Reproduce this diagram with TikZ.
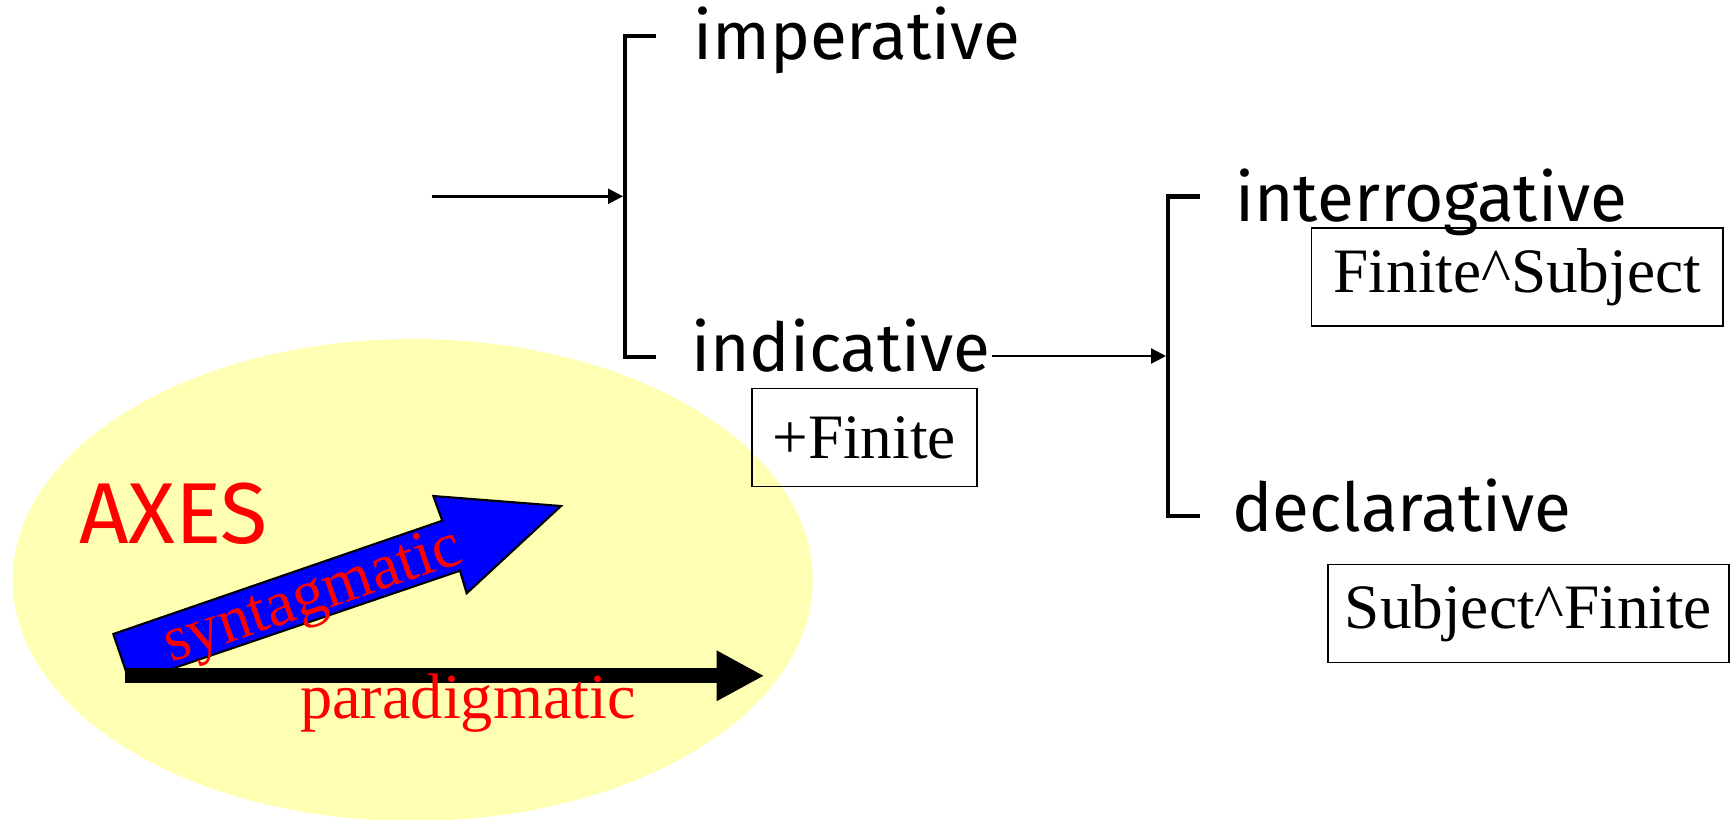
\documentclass[tikz,border=0pt]{standalone}
\usepackage{fontspec}
\setmainfont{Liberation Serif}
\newfontfamily\labelfont{Fira Sans}
\usetikzlibrary{arrows.meta}
\definecolor{paleyellow}{RGB}{255,255,179}

\begin{document}
\begin{tikzpicture}[line width=0.7pt,>={Triangle[length=1.5mm,width=1.5mm]},
  term/.style={anchor=base west,inner sep=0pt,font=\labelfont\fontsize{19.2}{23}\selectfont},
  realbox/.style={draw,line width=0.5pt,inner sep=0pt,minimum height=9.8mm,font=\fontsize{18}{21}\selectfont},
  brack/.style={line width=1.15pt,line join=miter},
  axislabel/.style={red,inner sep=0pt,anchor=base west,font=\fontsize{18.3}{21}\selectfont}]
\useasboundingbox (0,0) rectangle (17.31,-8.19);
% ---------- axes ----------
\fill[paleyellow] (4.127,-5.80) ellipse [x radius=4.00,y radius=2.41];
\node[red,inner sep=0pt,anchor=base west,font=\labelfont\fontsize{24.6}{30}\selectfont] (axes) at (0.78,-5.433) {AXES};
\draw[fill=blue,line width=0.6pt] (1.133,-6.34) -- (4.423,-5.207) -- (4.333,-4.96) -- (5.61,-5.06)
  -- (4.667,-5.933) -- (4.60,-5.707) -- (1.536,-6.75) -- (1.273,-6.75) -- cycle;
\coordinate (paraStart) at (1.25,-6.758);
\coordinate (paraEnd) at (7.643,-6.758);
\draw[line width=1.5mm,-{Triangle[length=4.76mm,width=4.7mm]}] (paraStart) -- (paraEnd);
\node[axislabel,rotate=19] (synt) at (1.70,-6.633) {syntagmatic};
\node[axislabel] (para) at (2.99,-7.18) {paradigmatic};
% ---------- mood system ----------
\coordinate (entry) at (4.317,-1.963);
\coordinate (brA) at (6.23,-1.963);
\draw[->] (entry) -- (brA);
\draw[brack] (6.56,-0.36) -| (6.25,-3.567) -- (6.56,-3.567);
\node[term] (imp) at (6.92,-0.593) {imperative};
\node[term] (ind) at (6.90,-3.717) {indicative};
\node[realbox,minimum width=2.25cm] (fin) at (8.642,-4.374) {+Finite};
% ---------- indicative system ----------
\coordinate (brB) at (11.66,-3.56);
\draw[->] (ind.mid east |- brB) -- (brB);
\draw[brack] (12.0,-1.965) -| (11.68,-5.16) -- (12.0,-5.16);
\node[term] (intg) at (12.34,-2.21) {interrogative};
\node[term] (decl) at (12.31,-5.317) {declarative};
\node[realbox,minimum width=4.115cm] (finSubj) at (15.172,-2.771) {Finite\textasciicircum Subject};
\node[realbox,minimum width=4.01cm] (subjFin) at (15.285,-6.135) {Subject\textasciicircum Finite};
\end{tikzpicture}
\end{document}
